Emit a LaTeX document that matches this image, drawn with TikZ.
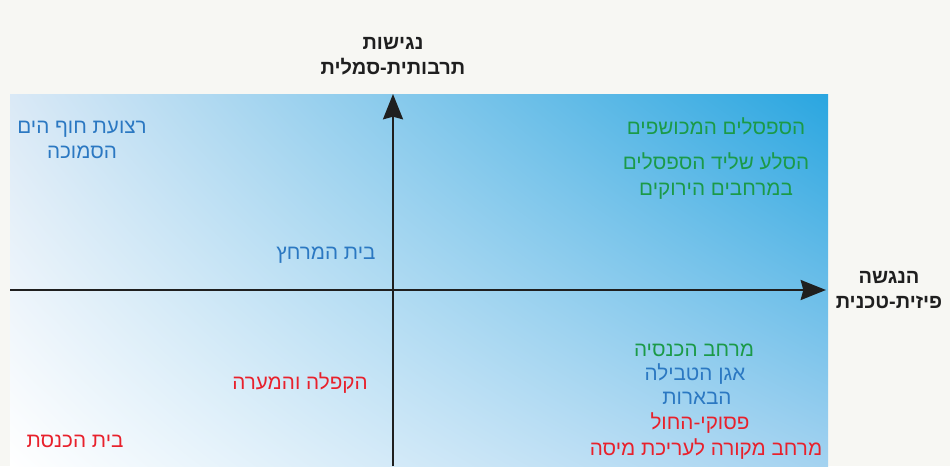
\documentclass[tikz,border=0pt]{standalone}
\usepackage{fontspec}
\newfontfamily\hebfont[Script=Hebrew]{Liberation Sans}
\TeXXeTstate=1
\usetikzlibrary{arrows.meta,positioning,shadings}
\definecolor{paper}{HTML}{F7F7F3}
\definecolor{skyblue}{HTML}{2AA6E0}
\definecolor{paleblue}{HTML}{DAE9F6}
\definecolor{midblue}{HTML}{A3D2F0}
\definecolor{txtblue}{HTML}{2B78C2}
\definecolor{txtgreen}{HTML}{1B9A48}
\definecolor{txtred}{HTML}{E8212C}
\newcommand{\heb}[1]{{\hebfont\beginR #1\endR}}

\begin{document}
\begin{tikzpicture}[
    x=0.75pt, y=-0.75pt,
    axis/.style={line width=1.6pt, draw=black!88, -{Stealth[length=19pt, width=15pt, inset=2pt]}},
    axislabel/.style={align=center, font=\fontsize{15}{19}\selectfont\bfseries, text=black!88, inner sep=0pt},
    item/.style={align=center, font=\fontsize{15.5}{19}\selectfont, inner sep=0pt},
    blueitem/.style={item, text=txtblue},
    greenitem/.style={item, text=txtgreen},
    reditem/.style={item, text=txtred}
]
    % background and shaded field
    \fill[paper] (0,0) rectangle (950,466);
    \shade[lower left=white, upper left=paleblue, upper right=skyblue, lower right=midblue]
        (10,95) rectangle (828,466);

    % axes
    \coordinate (xstart) at (10,290);
    \coordinate (xend) at (826,290);
    \coordinate (ystart) at (393,466);
    \coordinate (yend) at (393,94);
    \draw[axis] (xstart) -- (xend);
    \draw[axis] (ystart) -- (yend);

    \node[axislabel] (ylabel) at (393,56) {\heb{נגישות}\\\heb{תרבותית-סמלית}};
    \node[axislabel] (xlabel) at (889,290) {\heb{הנגשה}\\\heb{פיזית-טכנית}};

    % top left
    \node[blueitem] (shore) at (82,140) {\heb{רצועת חוף הים}\\\heb{הסמוכה}};
    \node[blueitem] (bath) at (326,255) {\heb{בית המרחץ}};

    % top right
    \node[greenitem] (benches) at (716,126) {\heb{הספסלים המכושפים}};
    \node[greenitem] (rock) at (716,176) {\heb{הסלע שליד הספסלים}\\\heb{במרחבים הירוקים}};

    % bottom left
    \node[reditem] (chapel) at (300,383) {\heb{הקפלה והמערה}};
    \node[reditem] (synagogue) at (75,441) {\heb{בית הכנסת}};

    % bottom right
    \node[greenitem] (entrance) at (694,350) {\heb{מרחב הכנסיה}};
    \node[blueitem] (font) at (695,374) {\heb{אגן הטבילה}};
    \node[blueitem] (wells) at (697,398) {\heb{הבארות}};
    \node[reditem] (verses) at (700,423) {\heb{פסוקי-החול}};
    \node[reditem] (mass) at (706,449) {\heb{מרחב מקורה לעריכת מיסה}};
\end{tikzpicture}
\end{document}
